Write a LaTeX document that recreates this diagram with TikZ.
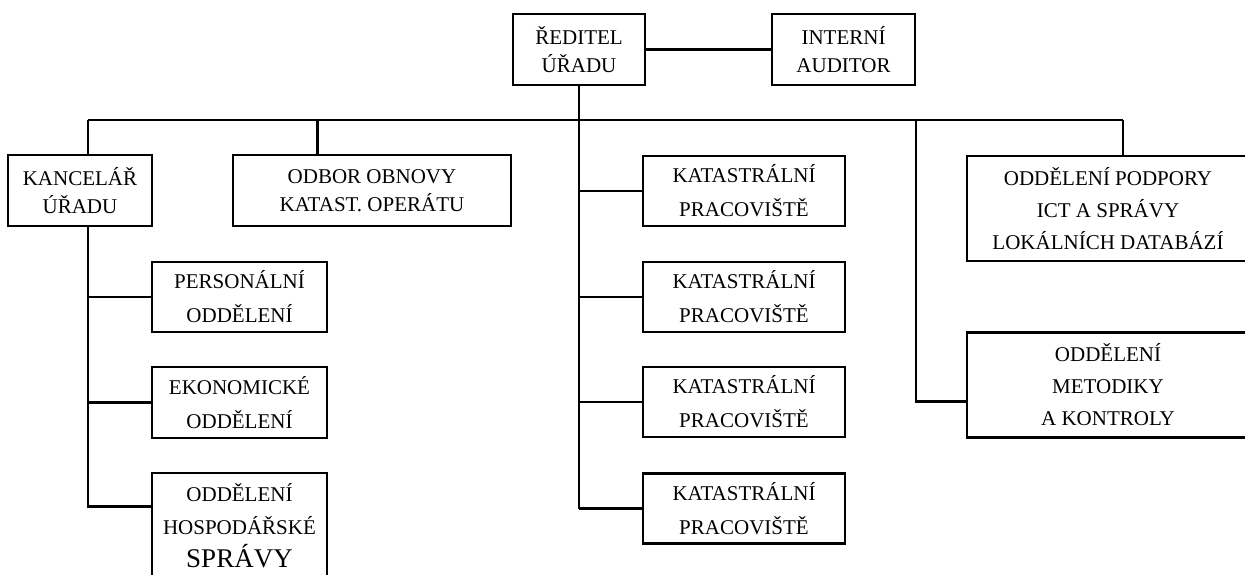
\documentclass[tikz,border=0pt]{standalone}
\usepackage{fontspec}
\setmainfont{Liberation Serif}
\usetikzlibrary{calc}

\begin{document}
\begin{tikzpicture}[x=1pt, y=-1pt,
    unit/.style={draw, line width=2.6pt, inner sep=0pt, align=center, font=\fontsize{21}{34}\selectfont},
    tight/.style={font=\fontsize{21}{27.5}\selectfont},
    wide/.style={font=\fontsize{21}{32}\selectfont},
    link/.style={line width=2.6pt}
]
\useasboundingbox (0,0) rectangle (1245,574);
\clip (0,0) rectangle (1245,574);

% top
\node[unit, tight, minimum width=132pt, minimum height=71pt] (dir) at (579,49.5) {ŘEDITEL\\ÚŘADU};
\node[unit, tight, minimum width=143pt, minimum height=71pt] (aud) at (843.5,49.5) {INTERNÍ\\AUDITOR};

% second row
\node[unit, tight, minimum width=144pt, minimum height=71pt] (kanc) at (80,190.5) {KANCELÁŘ\\ÚŘADU};
\node[unit, tight, minimum width=278pt, minimum height=71pt] (odbor) at (372,190.5) {ODBOR OBNOVY\\KATAST. OPERÁTU};
\node[unit, wide, minimum width=282pt, minimum height=105pt] (ict) at (1108,208.5) {ODDĚLENÍ PODPORY\\ICT A SPRÁVY\\LOKÁLNÍCH DATABÁZÍ};
\node[unit, wide, minimum width=282pt, minimum height=105pt] (met) at (1108,385) {ODDĚLENÍ\\METODIKY\\A KONTROLY};

% left column
\node[unit, minimum width=175pt, minimum height=70pt] (pers) at (239.5,297) {PERSONÁLNÍ\\ODDĚLENÍ};
\node[unit, minimum width=175pt, minimum height=71pt] (ekon) at (239.5,402.5) {EKONOMICKÉ\\ODDĚLENÍ};
\node[unit, font=\fontsize{21}{33}\selectfont, minimum width=175pt, minimum height=106pt] (hosp) at (239.5,526)
    {ODDĚLENÍ\\HOSPODÁŘSKÉ\\{\fontsize{27}{33}\selectfont SPRÁVY}};

% middle column
\foreach \i/\y in {1/191, 2/297, 3/402, 4/508.5}
    \node[unit, minimum width=202pt, minimum height=70pt] (kat\i) at (744,\y) {KATASTRÁLNÍ\\PRACOVIŠTĚ};

% connectors
\coordinate (busL) at (88,120);
\coordinate (busR) at (1123,120);
\coordinate (odbIn) at ($(odbor.north west)+(86,0)$);
\coordinate (hospIn) at ($(hosp.north west)+(0,35)$);
\coordinate (metIn) at ($(met.north west)+(0,70)$);

\draw[link] (dir.east) -- (aud.west);
\draw[link] (dir.south) -- (dir.south |- busL);
\draw[link] (busL) -- (busR);
\draw[link] (busL) -- (busL |- kanc.north);
\draw[link] (odbIn |- busL) -- (odbIn);
\draw[link] (busR) -- (busR |- ict.north);

\draw[link] (busL |- kanc.south) -- (busL |- hospIn) -- (hospIn);
\draw[link] (busL |- pers.west) -- (pers.west);
\draw[link] (busL |- ekon.west) -- (ekon.west);

\draw[link] (dir.south |- busL) -- (dir.south |- kat4.west);
\foreach \i in {1,...,4}
    \draw[link] (dir.south |- kat\i.west) -- (kat\i.west);

\draw[link] (916,120) -- (916,0 |- metIn) -- (metIn);

\end{tikzpicture}
\end{document}
